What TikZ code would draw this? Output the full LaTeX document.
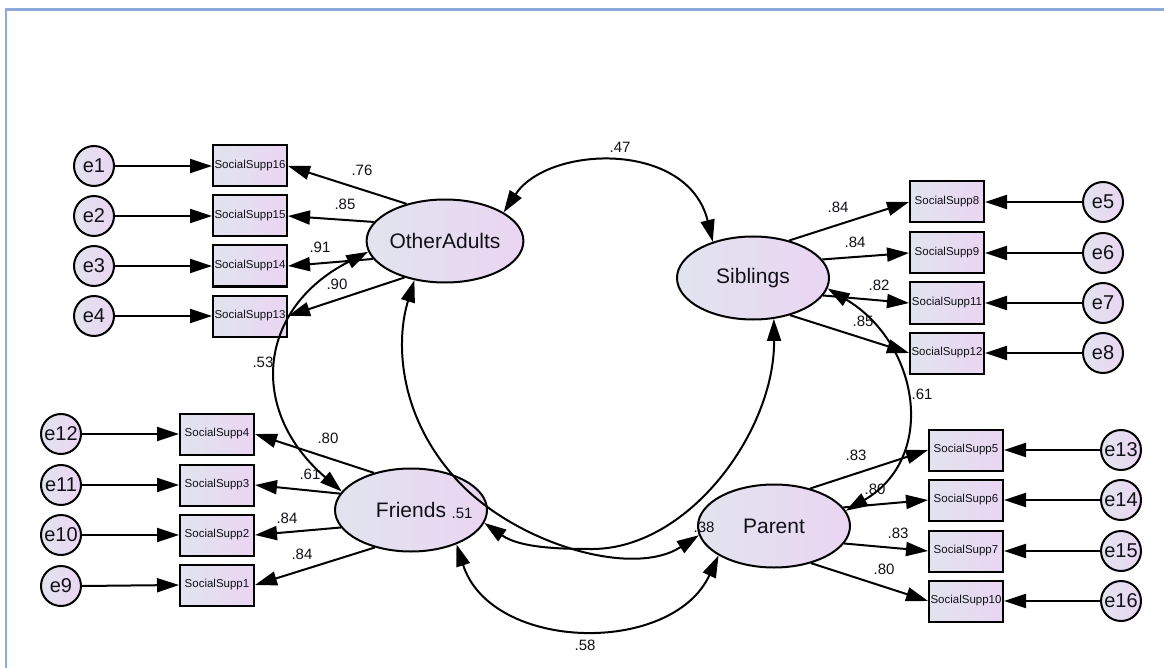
\documentclass[tikz,border=0pt]{standalone}
\usepackage{fontspec}
\setmainfont{Liberation Sans}
\usetikzlibrary{arrows.meta,shapes.geometric}
\definecolor{frameblue}{HTML}{8EAADC}
\definecolor{fillL}{HTML}{E1E4EE}
\definecolor{fillR}{HTML}{EAD5F2}
\definecolor{txt}{HTML}{111118}
\begin{document}
\begin{tikzpicture}[x=1pt,y=-1pt,
 latent/.style={ellipse, draw, line width=2pt, minimum width=152pt, minimum height=83pt, left color=fillL, right color=fillR, font=\fontsize{21}{21}\selectfont, text=txt, inner sep=0pt},
 obs/.style={rectangle, draw, line width=2pt, minimum width=74pt, minimum height=41pt, left color=fillL, right color=fillR, font=\fontsize{11.5}{11.5}\selectfont, text=txt, inner sep=0pt},
 err/.style={circle, draw, line width=2pt, minimum size=40pt, left color=fillL, right color=fillR, font=\fontsize{20}{20}\selectfont, text=txt, inner sep=0pt},
 load/.style={line width=2pt, -{Triangle[length=22pt,width=14pt]}},
 cov/.style={line width=2pt, {Triangle[length=22pt,width=14pt]}-{Triangle[length=22pt,width=14pt]}},
 coef/.style={font=\fontsize{15}{15}\selectfont, text=txt, inner sep=0pt},
]
\useasboundingbox (0,0) rectangle (1164,668);
\fill[white] (0,0) rectangle (1164,668);
\draw[frameblue, line width=2.5pt] (6,668) -- (6,9.5) -- (1164,9.5);

% latent variables
\node[latent] (OA) at (445,241) {OtherAdults};
\node[latent] (Sib) at (753,278) {Siblings};
\node[latent] (Fr) at (411,510) {Friends};
\node[latent] (Par) at (774,526) {Parent};

% observed: OtherAdults
\node[obs] (s16) at (250,166) {SocialSupp16};
\node[obs] (s15) at (250,216) {SocialSupp15};
\node[obs] (s14) at (250,266) {SocialSupp14};
\node[obs] (s13) at (250,316) {SocialSupp13};
\node[err] (e1) at (94,166) {e1};
\node[err] (e2) at (94,216) {e2};
\node[err] (e3) at (94,266) {e3};
\node[err] (e4) at (94,316) {e4};

% observed: Siblings
\node[obs] (s8) at (947,202) {SocialSupp8};
\node[obs] (s9) at (947,253) {SocialSupp9};
\node[obs] (s11) at (947,303) {SocialSupp11};
\node[obs] (s12) at (947,353) {SocialSupp12};
\node[err] (e5) at (1103,202) {e5};
\node[err] (e6) at (1103,253) {e6};
\node[err] (e7) at (1103,303) {e7};
\node[err] (e8) at (1103,353) {e8};

% observed: Friends
\node[obs] (s4) at (217,434) {SocialSupp4};
\node[obs] (s3) at (217,485) {SocialSupp3};
\node[obs] (s2) at (217,535) {SocialSupp2};
\node[obs] (s1) at (217,585) {SocialSupp1};
\node[err] (e12) at (61,434) {e12};
\node[err] (e11) at (61,485) {e11};
\node[err] (e10) at (61,535) {e10};
\node[err] (e9) at (61,586) {e9};

% observed: Parent
\node[obs] (s5) at (966,450) {SocialSupp5};
\node[obs] (s6) at (966,500) {SocialSupp6};
\node[obs] (s7) at (966,551) {SocialSupp7};
\node[obs] (s10) at (966,601) {SocialSupp10};
\node[err] (e13) at (1121,450) {e13};
\node[err] (e14) at (1121,500) {e14};
\node[err] (e15) at (1121,551) {e15};
\node[err] (e16) at (1121,601) {e16};

% error arrows
\foreach \e/\s in {e1/s16,e2/s15,e3/s14,e4/s13,e12/s4,e11/s3,e10/s2,e9/s1}
  \draw[load] (\e.east) -- (\s.west);
\foreach \e/\s in {e5/s8,e6/s9,e7/s11,e8/s12,e13/s5,e14/s6,e15/s7,e16/s10}
  \draw[load] (\e.west) -- (\s.east);

% loadings
\draw[load] (OA.136) -- (s16.east);
\draw[load] (OA.165) -- (s15.east);
\draw[load] (OA.194) -- (s14.east);
\draw[load] (OA.222) -- (s13.east);
\draw[load] (Sib.46) -- (s8.west);
\draw[load] (Sib.15) -- (s9.west);
\draw[load] (Sib.346) -- (s11.west);
\draw[load] (Sib.315) -- (s12.west);
\draw[load] (Fr.135) -- (s4.east);
\draw[load] (Fr.167) -- (s3.east);
\draw[load] (Fr.194) -- (s2.east);
\draw[load] (Fr.226) -- (s1.east);
\draw[load] (Par.46) -- (s5.west);
\draw[load] (Par.15) -- (s6.west);
\draw[load] (Par.346) -- (s7.west);
\draw[load] (Par.315) -- (s10.west);

% covariances
\draw[cov] (OA.26) .. controls (548,145) and (688,140) .. (Sib.138);
\draw[cov] (OA.188) .. controls (258,308) and (247,410) .. (Fr.165);
\draw[cov] (OA.232) .. controls (396,340) and (398,410) .. (450,472)
   .. controls (505,540) and (630,580) .. (Par.187);
\draw[cov] (Fr.350) .. controls (520,548) and (560,549) .. (593,549)
   .. controls (690,548) and (775,430) .. (Sib.297);
\draw[cov] (Sib.352) .. controls (919,343) and (938,457) .. (Par.12);
\draw[cov] (Fr.323) .. controls (491,652) and (672,656) .. (Par.208);

% coefficients
\node[coef] (c1) at (362,170) {.76};
\node[coef] (c2) at (345,204) {.85};
\node[coef] (c3) at (320,247) {.91};
\node[coef] (c4) at (337,284) {.90};
\node[coef] (c5) at (620,147) {.47};
\node[coef] (c6) at (838,207) {.84};
\node[coef] (c7) at (855,242) {.84};
\node[coef] (c8) at (879,285) {.82};
\node[coef] (c9) at (863,321) {.85};
\node[coef] (c10) at (922,394) {.61};
\node[coef] (c11) at (263,362) {.53};
\node[coef] (c12) at (328,438) {.80};
\node[coef] (c13) at (310,474) {.61};
\node[coef] (c14) at (287,518) {.84};
\node[coef] (c15) at (302,554) {.84};
\node[coef] (c16) at (462,513) {.51};
\node[coef] (c17) at (856,455) {.83};
\node[coef] (c18) at (875,489) {.80};
\node[coef] (c19) at (898,533) {.83};
\node[coef] (c20) at (884,569) {.80};
\node[coef] (c21) at (704,527) {.38};
\node[coef] (c22) at (585,645) {.58};
\end{tikzpicture}
\end{document}
